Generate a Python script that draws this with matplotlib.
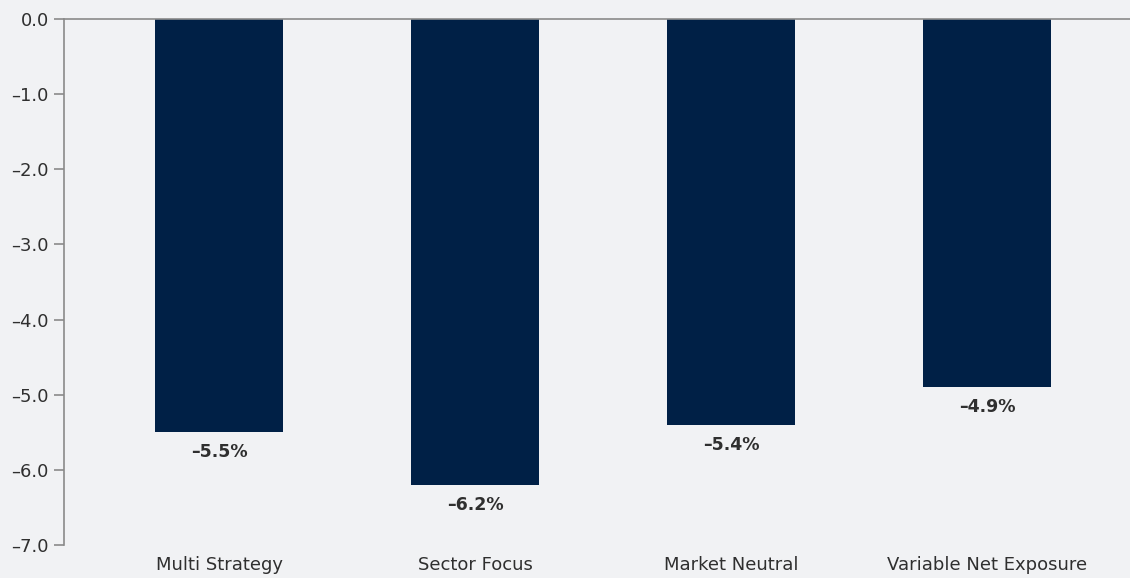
import matplotlib.pyplot as plt
from matplotlib import font_manager

categories = ['Multi Strategy', 'Sector Focus', 'Market Neutral', 'Variable Net Exposure']
values = [-5.5, -6.2, -5.4, -4.9]
yticks = [0, -1, -2, -3, -4, -5, -6, -7]

names = set(f.name for f in font_manager.fontManager.ttflist)
fam = [n for n in ['Liberation Sans Narrow', 'DejaVu Sans Condensed'] if n in names] + ['DejaVu Sans']
plt.rcParams['font.family'] = fam

bg = '#f1f2f4'
bar_col = '#002046'
txt = '#2f2f2f'
axc = '#8a8a8a'

fig = plt.figure(figsize=(11.3, 5.78), dpi=100, facecolor=bg)
ax = fig.add_axes([64 / 1130, 1 - 545 / 578, 1 - 64 / 1130, (545 - 19) / 578])
ax.set_facecolor(bg)

x = list(range(len(categories)))
ax.bar(x, values, width=0.5, color=bar_col, zorder=2)
for xi, v in zip(x, values):
    ax.annotate('\u2013%.1f%%' % abs(v), (xi, v), xytext=(0, -8), textcoords='offset points',
                ha='center', va='top', fontsize=12.5, fontweight='bold', color=txt)

ax.set_xlim(-0.607, 3.557)
ax.set_ylim(-7, 0)
ax.set_yticks(yticks)
ax.set_yticklabels([('\u2013%.1f' % abs(t)) if t < 0 else '0.0' for t in yticks])
ax.set_xticks(x)
ax.set_xticklabels(categories)
ax.tick_params(axis='y', length=7, width=1.2, color=axc, labelsize=13, labelcolor=txt, pad=4)
ax.tick_params(axis='x', length=0, labelsize=13, labelcolor=txt, pad=8)

for s in ['right', 'bottom']:
    ax.spines[s].set_visible(False)
ax.spines['left'].set_color(axc)
ax.spines['left'].set_linewidth(1.2)
ax.spines['top'].set_color(axc)
ax.spines['top'].set_linewidth(1.2)

plt.savefig('out.png', dpi=100, facecolor=bg)
